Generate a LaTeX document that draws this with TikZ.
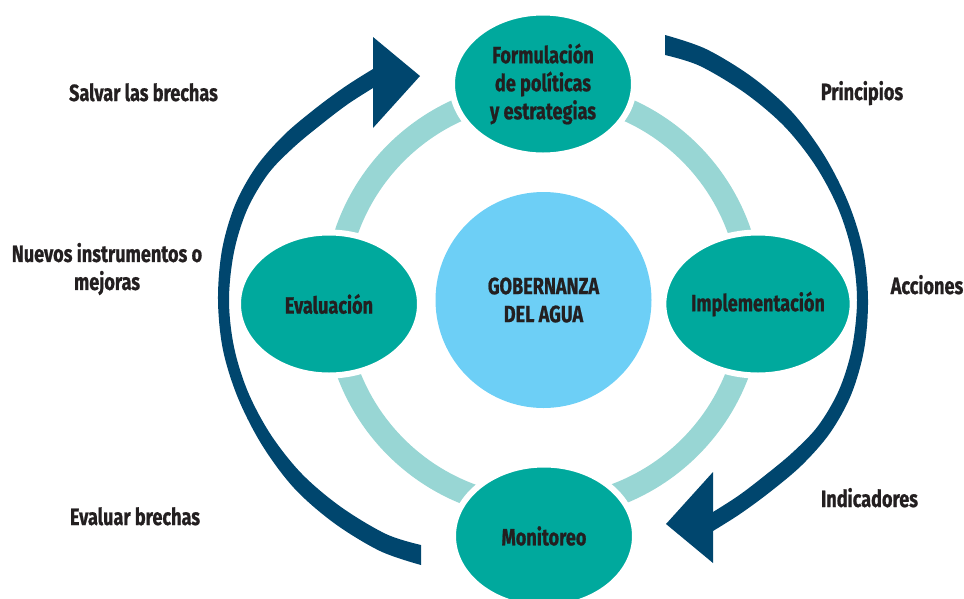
\documentclass[tikz,border=0pt]{standalone}
\usepackage{fontspec}
\newfontfamily\labelfont[FakeStretch=0.77, FakeBold=0.8]{Fira Sans}
\usetikzlibrary{shapes.geometric}
\definecolor{ink}{HTML}{231F20}
\definecolor{stagefill}{HTML}{00A99D}
\definecolor{hubfill}{HTML}{6DCFF6}
\definecolor{ringfill}{HTML}{98D6D4}
\definecolor{cyclefill}{HTML}{00466E}
\begin{document}
\begin{tikzpicture}[x=1pt,y=-1pt,
  lbl/.style={font=\labelfont\bfseries\fontsize{23.5}{28}\selectfont,
    text=ink, align=center, inner sep=0pt},
  stage/.style={ellipse, fill=stagefill, draw=white, line width=6pt,
    minimum width=182pt, minimum height=143pt, inner sep=0pt, lbl},
  hub/.style={circle, fill=hubfill, minimum size=216pt, inner sep=0pt, lbl},
  side/.style={lbl, anchor=base}]
\useasboundingbox (0,0) rectangle (964,598);
\clip (0,0) rectangle (964,598);

% light ring joining the four stages
\draw[ringfill, line width=23pt] (543,300) circle[radius=208pt];

% outer cycle arrow (right half; the left half is the same shape turned)
\newcommand{\cyclearrow}{%
  \fill[cyclefill]
    plot[smooth, tension=0.55] coordinates {(665,35) (706,49) (752,77) (792,112)
      (824,155) (848,202) (863,250) (868,300) (864,350) (851,395) (830,433)
      (802,465) (770,492) (740,514) (713,531)}
    -- plot[smooth, tension=0.55] coordinates {(713,512) (738,496) (763,477)
      (792,453) (818,426) (839,390) (852,348) (857,300) (852,253) (838,208)
      (815,165) (784,126) (745,93) (700,66) (665,55)}
    -- cycle;
  \fill[cyclefill] (713,472) -- (666,524) -- (713,563) -- cycle;}
\cyclearrow
\begin{scope}[rotate around={180:(543,300)}]
  \cyclearrow
\end{scope}

% stages and hub
\node[hub] (hub) at (543.5,300) {GOBERNANZA\\DEL AGUA};
\node[stage] (form) at (543,84) {Formulación\\de políticas\\y estrategias};
\node[stage] (impl) at (758,304) {Implementación};
\node[stage] (moni) at (544,536) {Monitoreo};
\node[stage] (eval) at (329,304) {Evaluación};

% side notes
\node[side] (salvar) at (143.5,101) {Salvar las brechas};
\node[lbl] (nuevos) at (107,269) {Nuevos instrumentos o\\mejoras};
\node[side] (evalb) at (135,525) {Evaluar brechas};
\node[side] (princ) at (862,100) {Principios};
\node[side] (acc) at (927,294) {Acciones};
\node[side] (ind) at (869.5,507) {Indicadores};
\end{tikzpicture}
\end{document}
